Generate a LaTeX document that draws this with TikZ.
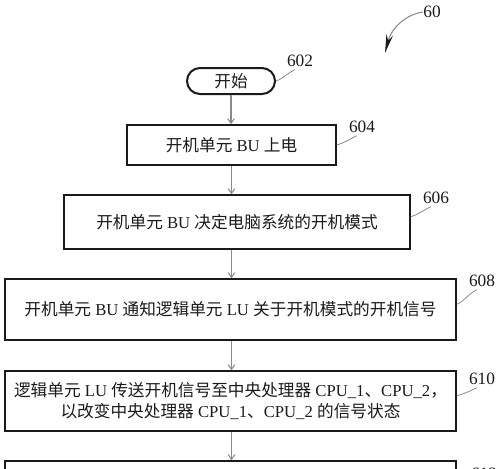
\documentclass[tikz,border=0pt]{standalone}
\usepackage{fontspec}
\setmainfont{Liberation Serif}
\newfontfamily\cjk{Noto Sans CJK SC}
\usetikzlibrary{arrows.meta}
\definecolor{ink}{HTML}{1A1A1A}
\definecolor{wire}{HTML}{8A8A8A}
\newcommand{\zh}[1]{{\cjk #1}}

\begin{document}
\begin{tikzpicture}[x=0.75pt, y=-0.75pt,
    every node/.style={font=\fontsize{12.5}{16}\selectfont, text=ink},
    stepbox/.style={draw=ink, line width=1.2pt, inner sep=0pt, align=center},
    flow/.style={draw=wire, line width=0.8pt, -{Straight Barb[length=3.5pt,width=5pt]}},
    lead/.style={draw=wire, line width=0.6pt},
    tag/.style={font=\fontsize{13}{13}\selectfont, inner sep=0pt}]
    \useasboundingbox (0,0) rectangle (500,468);
    \clip (0,0) rectangle (500,468);
    % steps
    \node[stepbox, line width=1.5pt, rounded corners=9.75pt,
      minimum width=66pt, minimum height=19.5pt] (start) at (231,81) {\zh{开始}};
    \node[stepbox, minimum width=156.75pt, minimum height=30pt]
      (b604) at (231.5,145) {\zh{开机单元} BU \zh{上电}};
    \node[stepbox, minimum width=259.5pt, minimum height=40.5pt]
      (b606) at (237,222) {\zh{开机单元} BU \zh{决定电脑系统的开机模式}};
    \node[stepbox, minimum width=338.25pt, minimum height=45.75pt]
      (b608) at (230.5,309.5) {\zh{开机单元} BU \zh{通知逻辑单元} LU \zh{关于开机模式的开机信号}};
    \node[stepbox, minimum width=338.25pt, minimum height=45pt]
      (b610) at (230.5,401) {\zh{逻辑单元} LU \zh{传送开机信号至中央处理器} CPU\_1\zh{、}CPU\_2\zh{，}\\
      \zh{以改变中央处理器} CPU\_1\zh{、}CPU\_2 \zh{的信号状态}};
    \node[stepbox, minimum width=338.25pt, minimum height=45pt]
      (b612) at (230.5,491) {};
    % flow
    \draw[flow] (start.south) -- (start.south |- b604.north);
    \draw[flow] (b604.south) -- (b604.south |- b606.north);
    \draw[flow] (b604.south |- b606.south) -- (b604.south |- b608.north);
    \draw[flow] (b604.south |- b608.south) -- (b604.south |- b610.north);
    \draw[flow] (b604.south |- b610.south) -- (b604.south |- b612.north);
    % reference numerals
    \node[tag] (t60) at (432,12) {60};
    \node[tag] (t602) at (300,61) {602};
    \node[tag] (t604) at (362,127) {604};
    \node[tag] (t606) at (436,198) {606};
    \node[tag] (t608) at (482,281) {608};
    \node[tag] (t610) at (482,379) {610};
    \node[tag] (t612) at (484,474) {612};
    \coordinate (tip60) at (385,53);
    \draw[lead, line width=0.8pt, -{Stealth[length=14pt,width=5pt,ink]}]
      (t60.west) .. controls (408,14) and (392,26) .. (tip60);
    \draw[lead] (start.east) .. controls +(5,-1) and +(-8,4) .. ([xshift=-4pt,yshift=-2pt]t602.south);
    \draw[lead] (b604.east) .. controls +(5,-1) and +(-8,4) .. ([xshift=-4pt,yshift=-2pt]t604.south);
    \draw[lead] ([yshift=4pt]b606.east) .. controls +(5,-1) and +(-8,4) .. ([xshift=-4pt,yshift=-2pt]t606.south);
    \draw[lead] ([yshift=4pt]b608.east) .. controls +(5,-1) and +(-8,4) .. ([xshift=-4pt,yshift=-2pt]t608.south);
    \draw[lead] ([yshift=4pt]b610.east) .. controls +(5,-1) and +(-8,4) .. ([xshift=-4pt,yshift=-2pt]t610.south);
    \draw[lead] ([yshift=4pt]b612.east) .. controls +(5,-1) and +(-8,4) .. ([xshift=-4pt,yshift=-2pt]t612.south);
\end{tikzpicture}
\end{document}
